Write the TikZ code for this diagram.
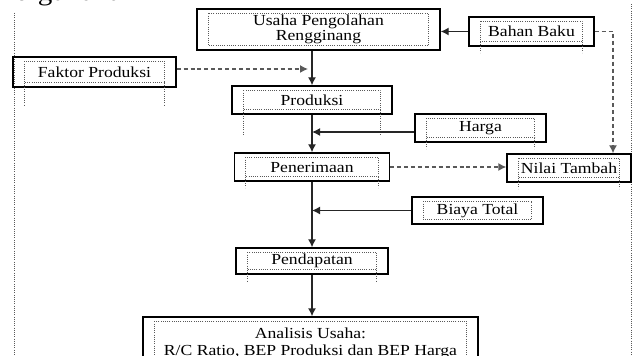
\documentclass[tikz,border=0pt]{standalone}
\usepackage{fontspec}
\setmainfont[FakeStretch=1.15]{Liberation Serif}
\usetikzlibrary{shapes,arrows.meta,positioning,fit,calc}

\begin{document}
\begin{tikzpicture}[
    x=0.75pt, y=-0.75pt,
    kotak/.style={rectangle, draw=black, line width=1pt, align=center, inner sep=0pt, font=\fontsize{11.5}{11}\selectfont},
    titik/.style={draw=black!65, densely dotted, line width=0.65pt},
    panah/.style={draw=black!85, line width=1pt, -{Latex[length=6pt,width=6pt]}},
    putus/.style={panah, draw=black!65, dash pattern=on 3pt off 2.2pt}
]
\useasboundingbox (0,0) rectangle (632,356);
\node[anchor=base west, inner sep=0pt, font=\fontsize{19}{19}\selectfont] (atas) at (15,1) {digunakan};
\draw[titik] (14,13) -- (14,356);
\draw[titik] (631,4) -- (631,356);

\node[kotak, minimum width=182.25pt, minimum height=30.75pt] (usaha) at (318.5,29.5) {Usaha Pengolahan\\Rengginang};
\node[kotak, minimum width=93.75pt, minimum height=21.75pt] (bahan) at (531.5,31.5) {Bahan Baku};
\node[kotak, minimum width=122.25pt, minimum height=22.5pt] (faktor) at (94.5,72) {Faktor Produksi};
\node[kotak, minimum width=120pt, minimum height=21pt] (produksi) at (312,100) {Produksi};
\node[kotak, minimum width=98.25pt, minimum height=21pt] (harga) at (480.5,128) {Harga};
\node[kotak, minimum width=116.25pt, minimum height=21pt] (penerimaan) at (312,167) {Penerimaan};
\node[kotak, minimum width=93pt, minimum height=21pt] (nilai) at (569,168) {Nilai Tambah};
\node[kotak, minimum width=98.25pt, minimum height=20.25pt] (biaya) at (477.5,210.5) {Biaya Total};
\node[kotak, minimum width=114pt, minimum height=19.5pt] (pendapatan) at (312,261) {Pendapatan};
\node[kotak, minimum width=251.25pt, minimum height=39.75pt, font=\fontsize{11.5}{12.75}\selectfont] (analisis) at (310.5,343.5) {Analisis Usaha:\\R/C Ratio, BEP Produksi dan BEP Harga};

\foreach \n in {usaha,bahan,faktor,produksi,harga,penerimaan,nilai,biaya,pendapatan,analisis}
  \draw[titik] ($(\n.north west)+(12,5)$) rectangle ($(\n.south east)+(-12,-5)$);
\foreach \n/\p in {bahan/6,faktor/18,produksi/21,harga/6,penerimaan/6,nilai/6,pendapatan/8}{
  \draw[titik] ($(\n.south west)+(12,-5)$) -- ($(\n.south west)+(12,\p)$);
  \draw[titik] ($(\n.south east)+(-12,-5)$) -- ($(\n.south east)+(-12,\p)$);
}

\draw[panah] (usaha.south -| produksi.north) -- (produksi.north);
\draw[panah] (produksi.south) -- (penerimaan.north);
\draw[panah] (penerimaan.south) -- (pendapatan.north);
\draw[panah] (pendapatan.south) -- (pendapatan.south |- analisis.north);
\draw[panah] (bahan.west) -- (bahan.west -| usaha.east);
\draw[panah] ($(harga.west)+(0,4)$) -- ($(harga.west -| produksi.south)+(0,4)$);
\draw[panah] (biaya.west) -- (biaya.west -| penerimaan.south);
\draw[putus, shorten >=3pt] ($(faktor.east)+(0,-3)$) -- ($(faktor.east -| produksi.north)+(0,-3)$);
\draw[putus] (bahan.east) -| ($(nilai.north)+(44,0)$);
\draw[putus] (penerimaan.east) -- (penerimaan.east -| nilai.west);
\end{tikzpicture}
\end{document}
